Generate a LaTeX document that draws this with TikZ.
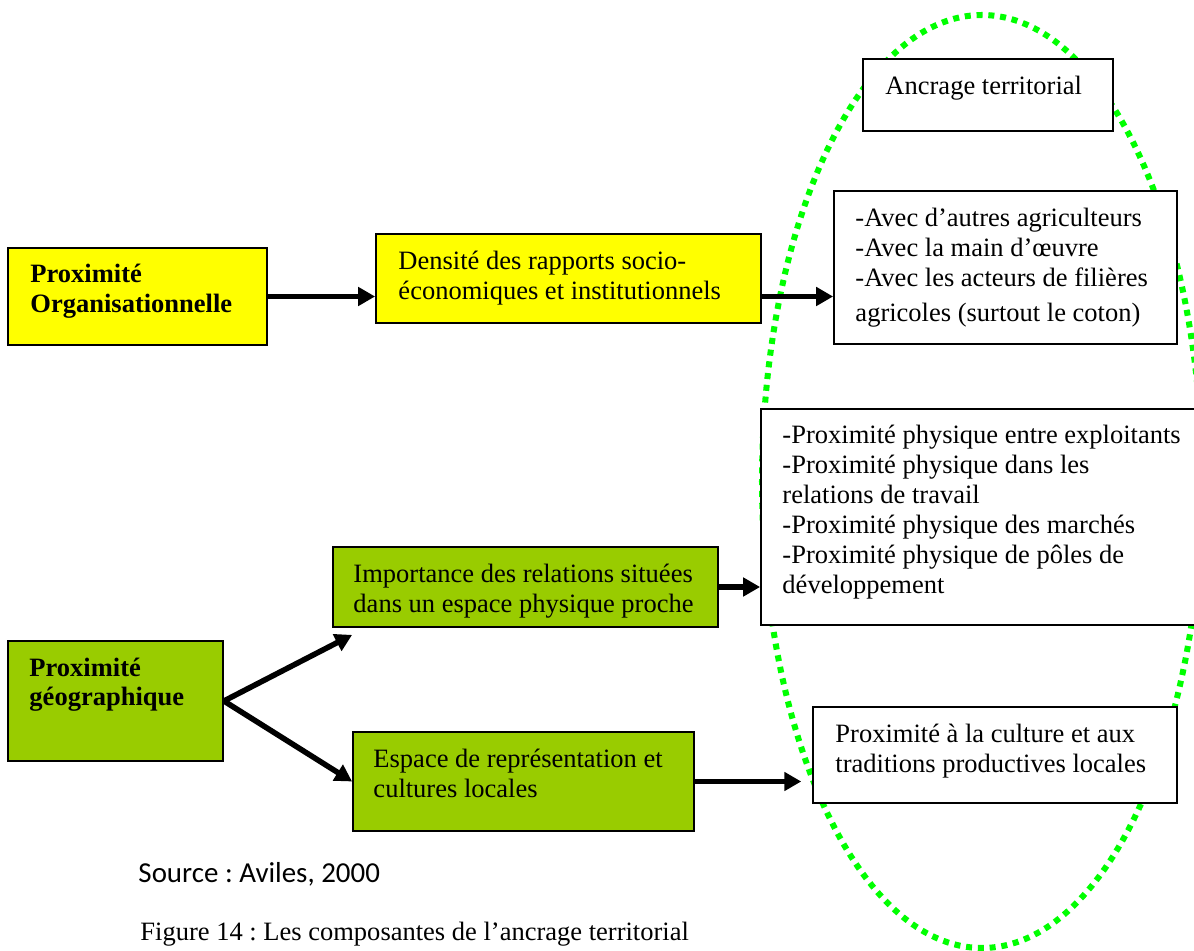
\documentclass[tikz,border=0pt]{standalone}
\usepackage{fontspec}
\setmainfont{Liberation Serif}
\newfontfamily\sourcefont{Carlito}
\usetikzlibrary{arrows.meta}
\usetikzlibrary{calc}
\usetikzlibrary{fit}
\tikzset{>={Triangle[length=7pt, width=7.5pt]}}
\definecolor{brightYellow}{HTML}{FFFF00}
\definecolor{limeGreen}{HTML}{99CC00}
\definecolor{dotGreen}{HTML}{00FF00}
\frenchspacing

\begin{document}
\begin{tikzpicture}[x=0.415pt, y=-0.415pt,
    box/.style={draw=black, line width=0.75pt, inner sep=0pt},
    txt/.style={anchor=base west, inner sep=0pt, align=flush left, text width=240pt,
      font=\fontsize{11pt}{12.45pt}\selectfont},
    btxt/.style={txt, font=\fontsize{11pt}{12.45pt}\selectfont\bfseries},
    conn/.style={->, line width=2.3pt}]
    \useasboundingbox (0,0) rectangle (1194,951);

    \draw[dotGreen, line width=2.5pt, dash pattern=on 2.5pt off 2.4pt] (982,481.5) ellipse [x radius=220, y radius=466.5];

    \node[box, fill=brightYellow, fit={(8,248) (267,345)}] (org) {};
    \node[box, fill=brightYellow, fit={(376,234) (761,323)}] (dens) {};
    \node[box, fill=white, fit={(863,59) (1113,131)}] (anc) {};
    \node[box, fill=white, fit={(834,191) (1177,344)}] (lst1) {};
    \node[box, fill=white, fit={(761,409) (1215,625)}] (lst2) {};
    \node[box, fill=limeGreen, fit={(333,547) (718,627)}] (imp) {};
    \node[box, fill=limeGreen, fit={(8,641) (223,761)}] (geo) {};
    \node[box, fill=limeGreen, fit={(353,732) (694,831)}] (esp) {};
    \node[box, fill=white, fit={(813,707) (1177,803)}] (cult) {};

    \node[btxt] (orgtxt) at (30,283) {Proximité\\Organisationnelle};
    \node[txt] (denstxt) at (398,270) {Densité des rapports socio-\\économiques et institutionnels};
    \node[txt] (anctxt) at (885,95) {Ancrage territorial};
    \node[txt] (lst1txt) at (855,227) {-Avec d’autres agriculteurs\\-Avec la main d’œuvre\\-Avec les acteurs de filières\\[2pt]agricoles (surtout le coton)};
    \node[txt] (lst2txt) at (782,444) {-Proximité physique entre exploitants\\-Proximité physique dans les\\relations de travail\\-Proximité physique des marchés\\-Proximité physique de pôles de\\développement};
    \node[txt] (imptxt) at (353,583) {Importance des relations situées\\dans un espace physique proche};
    \node[btxt] (geotxt) at (29,676) {Proximité\\géographique};
    \node[txt] (esptxt) at (373,767) {Espace de représentation et\\cultures locales};
    \node[txt] (culttxt) at (835,742) {Proximité à la culture et aux\\traditions productives locales};

    \node[txt, font=\sourcefont\fontsize{12pt}{14pt}\selectfont] (src) at (138,882) {Source : Aviles, 2000};
    \node[txt] (cap) at (140,940) {Figure 14 : Les composantes de l’ancrage territorial};

    \draw[conn] (org.east) -- (org.east -| dens.west);
    \draw[conn] (org.east -| dens.east) -- (org.east -| lst1.west);
    \draw[conn] (imp.east) -- (imp.east -| lst2.west);
    \coordinate (impin) at ($(imp.south west)+(20,7)$);
    \draw[conn] (geo.east) -- (impin);
    \draw[conn] (geo.east) -- (esp.west);
    \draw[conn, shorten >=4.5pt] (esp.east) -- (esp.east -| cult.west);
\end{tikzpicture}
\end{document}
